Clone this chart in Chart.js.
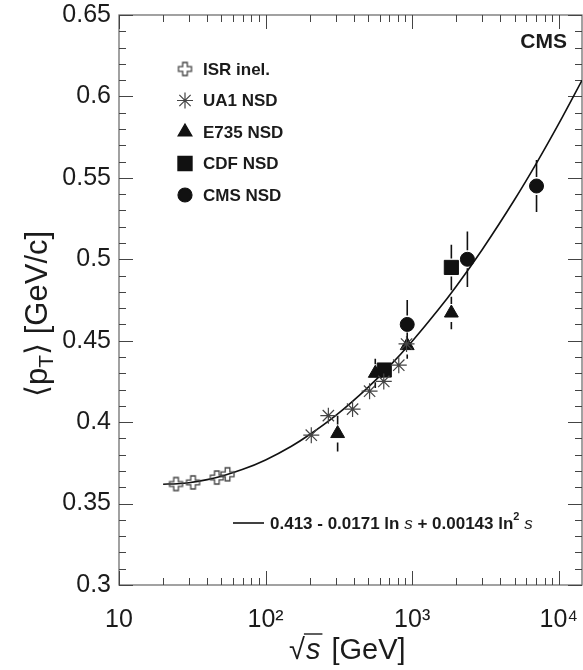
<!DOCTYPE html>
<html>
<head>
<meta charset="utf-8">
<script src="https://cdn.jsdelivr.net/npm/chart.js@4.4.1/dist/chart.umd.min.js"></script>
<style>
  html, body { margin: 0; padding: 0; background: #fff; }
  #wrap { width: 583px; height: 670px; }
</style>
</head>
<body>
<div id="wrap"><canvas id="chart"></canvas></div>
<script>
// sqrt(s) [GeV] and <pT> [GeV/c]
const isrE  = [24.5, 32, 46.5, 55];
const isrPt = [0.362, 0.363, 0.366, 0.368];

const ua1E  = [205, 268, 392, 512, 640, 810, 915];
const ua1Pt = [0.392, 0.404, 0.408, 0.419, 0.425, 0.435, 0.448];

const e735E   = [310, 560, 925, 1850];
const e735Pt  = [0.393, 0.430, 0.447, 0.467];
const e735Err = [0.011, 0.009, 0.008, 0.010];

const cdfE   = [645, 1850];
const cdfPt  = [0.432, 0.495];
const cdfErr = [0.004, 0.014];

const cmsE   = [925, 2380, 7050];
const cmsPt  = [0.460, 0.500, 0.545];
const cmsErr = [0.015, 0.017, 0.016];

// fit curve 0.413 - 0.0171 ln s + 0.00143 ln^2 s, sampled
const fitE  = [20, 25, 30, 40, 50, 70, 100, 150, 200, 300, 500, 700, 1000, 1500, 2000, 3000, 5000, 7000, 10000, 14400];
const fitPt = [0.3619, 0.3622, 0.3628, 0.3647, 0.3668, 0.3710, 0.3768, 0.3852, 0.3924, 0.4040, 0.4214, 0.4344, 0.4497, 0.4688, 0.4835, 0.5059, 0.5367, 0.5586, 0.5833, 0.6099];

const xTicks = [10, 100, 1000, 10000];
const xTickLabels = ["10", "10\u00B2", "10\u00B3", "10\u2074"];
const yTicks = [0.3, 0.35, 0.4, 0.45, 0.5, 0.55, 0.6, 0.65];
const yTickLabels = ["0.3", "0.35", "0.4", "0.45", "0.5", "0.55", "0.6", "0.65"];

const FONT = "'Liberation Sans', Arial, sans-serif";
const INK = "#1b1b1b";

function pts(xs, ys){ return xs.map((x, i) => ({ x: x, y: ys[i] })); }

function openCross(){
  const c = document.createElement("canvas");
  c.width = 17; c.height = 17;
  const g = c.getContext("2d");
  const m = 8.5, a = 6.5, w = 2.3;
  g.beginPath();
  g.moveTo(m-w, m-a); g.lineTo(m+w, m-a); g.lineTo(m+w, m-w); g.lineTo(m+a, m-w);
  g.lineTo(m+a, m+w); g.lineTo(m+w, m+w); g.lineTo(m+w, m+a); g.lineTo(m-w, m+a);
  g.lineTo(m-w, m+w); g.lineTo(m-a, m+w); g.lineTo(m-a, m-w); g.lineTo(m-w, m-w);
  g.closePath();
  g.strokeStyle = "#444"; g.lineWidth = 1.3; g.stroke();
  return c;
}
const crossImg = openCross();

const legendItems = [
  { label: "ISR inel.", style: crossImg, r: 7, color: "#444" },
  { label: "UA1 NSD",   style: "star",     r: 8, color: "#444" },
  { label: "E735 NSD",  style: "triangle", r: 8, color: "#111" },
  { label: "CDF NSD",   style: "rect",     r: 10, color: "#111" },
  { label: "CMS NSD",   style: "circle",   r: 7, color: "#111" }
];

const errorSets = [
  { ds: 2, err: e735Err, gap: 9 },
  { ds: 3, err: cdfErr, gap: 9 },
  { ds: 4, err: cmsErr, gap: 9 }
];

const decor = {
  id: "decor",
  beforeDatasetsDraw(chart){
    const { ctx, chartArea: a, scales: { x, y } } = chart;
    ctx.save();
    ctx.strokeStyle = "#707070";
    ctx.lineWidth = 1.3;
    ctx.strokeRect(a.left, a.top, a.right - a.left, a.bottom - a.top);
    ctx.strokeStyle = "#444";
    ctx.lineWidth = 1;
    ctx.beginPath();
    // y ticks, major and minor, both sides
    for(let k = 30; k <= 65; k++){
      const py = Math.round(y.getPixelForValue(k / 100)) + 0.5;
      const len = (k % 5 === 0) ? 14 : 7;
      ctx.moveTo(a.left, py); ctx.lineTo(a.left + len, py);
      ctx.moveTo(a.right, py); ctx.lineTo(a.right - len, py);
    }
    // x ticks, decades and 2..9
    for(let d = 10; d <= 10000; d *= 10){
      for(let m = 1; m <= 9; m++){
        const v = d * m;
        if(v > x.max) break;
        const px = Math.round(x.getPixelForValue(v)) + 0.5;
        const len = (m === 1) ? 14 : 7;
        ctx.moveTo(px, a.bottom); ctx.lineTo(px, a.bottom - len);
        ctx.moveTo(px, a.top); ctx.lineTo(px, a.top + len);
      }
    }
    ctx.stroke();

    // error bars
    ctx.strokeStyle = "#111";
    ctx.lineWidth = 1.6;
    ctx.beginPath();
    errorSets.forEach(s => {
      const ds = chart.data.datasets[s.ds];
      ds.data.forEach((p, i) => {
        const px = x.getPixelForValue(p.x);
        const py = y.getPixelForValue(p.y);
        const top = y.getPixelForValue(p.y + s.err[i]);
        const bot = y.getPixelForValue(p.y - s.err[i]);
        if(py - s.gap > top){ ctx.moveTo(px, py - s.gap); ctx.lineTo(px, top); }
        if(py + s.gap < bot){ ctx.moveTo(px, py + s.gap); ctx.lineTo(px, bot); }
      });
    });
    ctx.stroke();
    ctx.restore();
  },
  afterDraw(chart){
    const { ctx } = chart;
    ctx.save();
    ctx.fillStyle = INK;
    ctx.textBaseline = "middle";

    // legend
    legendItems.forEach((it, i) => {
      const ly = 69 + i * 31.5;
      ctx.fillStyle = it.color;
      ctx.strokeStyle = it.color;
      ctx.lineWidth = 1.2;
      Chart.helpers.drawPoint(ctx, { pointStyle: it.style, radius: it.r, rotation: 0, borderWidth: 1.2 }, 185, ly);
      ctx.fillStyle = INK;
      ctx.font = "bold 17px " + FONT;
      ctx.textAlign = "left";
      ctx.fillText(it.label, 203, ly + 1);
    });

    // CMS tag
    ctx.font = "bold 21px " + FONT;
    ctx.textAlign = "right";
    ctx.fillText("CMS", 567, 42);

    // fit legend
    ctx.strokeStyle = "#111";
    ctx.lineWidth = 1.6;
    ctx.beginPath(); ctx.moveTo(233, 523); ctx.lineTo(264, 523); ctx.stroke();
    const bold = "bold 17px " + FONT, ital = "italic 17px " + FONT, sup = "bold 11px " + FONT;
    const parts = [
      ["0.413 - 0.0171 ln ", bold, 0], ["s", ital, 0], [" + 0.00143 ln", bold, 0],
      ["2", sup, -7], [" ", bold, 0], ["s", ital, 0]
    ];
    let tx = 270;
    ctx.textAlign = "left";
    parts.forEach(p => {
      ctx.font = p[1];
      ctx.fillText(p[0], tx, 524 + p[2]);
      tx += ctx.measureText(p[0]).width;
    });

    // x title: sqrt(s) [GeV]
    ctx.font = "29px " + FONT;
    let xx = 289;
    const xy = 651;
    ctx.fillText("\u221A", xx, xy);
    xx += ctx.measureText("\u221A").width;
    ctx.font = "italic 29px " + FONT;
    const sw = ctx.measureText("s").width;
    ctx.fillText("s", xx + 1, xy);
    ctx.lineWidth = 1.4;
    ctx.strokeStyle = INK;
    ctx.beginPath(); ctx.moveTo(xx - 1, xy - 17); ctx.lineTo(xx + sw + 3, xy - 17); ctx.stroke();
    xx += sw + 4;
    ctx.font = "29px " + FONT;
    ctx.fillText(" [GeV]", xx, xy);

    // y title: <pT> [GeV/c]
    ctx.translate(38, 314);
    ctx.rotate(-Math.PI / 2);
    const big = "31px 'Liberation Sans', 'DejaVu Sans', sans-serif";
    const sub = "21px 'Liberation Sans', 'DejaVu Sans', sans-serif";
    const yparts = [["\u27E8p", big, 0], ["T", sub, 9], ["\u27E9 [GeV/c]", big, 0]];
    let total = 0;
    yparts.forEach(p => { ctx.font = p[1]; total += ctx.measureText(p[0]).width; });
    let yx = -total / 2;
    yparts.forEach(p => {
      ctx.font = p[1];
      ctx.fillText(p[0], yx, p[2]);
      yx += ctx.measureText(p[0]).width;
    });
    ctx.restore();
  }
};

new Chart(document.getElementById("chart"), {
  type: "scatter",
  data: {
    datasets: [
      { label: "ISR inel.", data: pts(isrE, isrPt), pointStyle: crossImg, pointRadius: 7 },
      { label: "UA1 NSD", data: pts(ua1E, ua1Pt), pointStyle: "star", pointRadius: 8,
        borderColor: "#444", borderWidth: 1.2 },
      { label: "E735 NSD", data: pts(e735E, e735Pt), pointStyle: "triangle", pointRadius: 8,
        backgroundColor: "#111", borderColor: "#111", borderWidth: 1 },
      { label: "CDF NSD", data: pts(cdfE, cdfPt), pointStyle: "rect", pointRadius: 10,
        backgroundColor: "#111", borderColor: "#111", borderWidth: 1 },
      { label: "CMS NSD", data: pts(cmsE, cmsPt), pointStyle: "circle", pointRadius: 7,
        backgroundColor: "#111", borderColor: "#111", borderWidth: 1 },
      { label: "fit", data: pts(fitE, fitPt), showLine: true, pointRadius: 0,
        borderColor: "#111", borderWidth: 1.6, cubicInterpolationMode: "monotone", fill: false }
    ]
  },
  options: {
    responsive: true,
    maintainAspectRatio: false,
    animation: false,
    layout: { autoPadding: false, padding: { top: 15, right: 1, left: 0, bottom: 0 } },
    plugins: { legend: { display: false }, tooltip: { enabled: false } },
    scales: {
      x: {
        type: "logarithmic",
        min: 10, max: 14400,
        grid: { display: false, drawTicks: false },
        border: { display: false },
        afterBuildTicks: s => { s.ticks = xTicks.map(v => ({ value: v })); },
        afterFit: s => { s.height = 85; s.paddingLeft = 0; s.paddingRight = 0; },
        ticks: {
          padding: 20, color: INK, maxRotation: 0, autoSkip: false,
          font: { family: FONT, size: 25 },
          callback: (v) => xTickLabels[xTicks.indexOf(v)]
        }
      },
      y: {
        type: "linear",
        min: 0.3, max: 0.65,
        grid: { display: false, drawTicks: false },
        border: { display: false },
        afterBuildTicks: s => { s.ticks = yTicks.map(v => ({ value: v })); },
        afterFit: s => { s.width = 119; s.paddingTop = 0; s.paddingBottom = 0; },
        ticks: {
          padding: 8, color: INK, autoSkip: false,
          font: { family: FONT, size: 25 },
          callback: (v) => yTickLabels[yTicks.findIndex(t => Math.abs(t - v) < 1e-9)]
        }
      }
    }
  },
  plugins: [decor]
});
</script>
</body>
</html>
